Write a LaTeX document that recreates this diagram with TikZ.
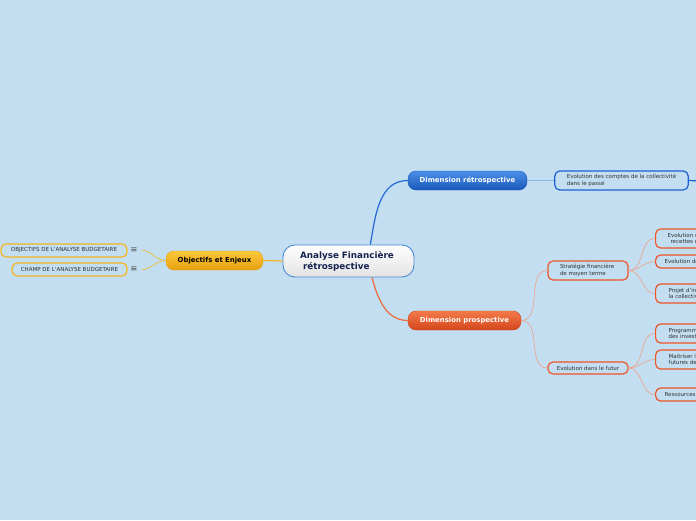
\documentclass[tikz,border=0pt]{standalone}
\usepackage{fontspec}
\setmainfont{DejaVu Sans}
\definecolor{bgblue}{RGB}{194,222,240}
\definecolor{rootline}{RGB}{74,138,212}
\definecolor{rootnavy}{RGB}{20,35,80}
\definecolor{retrotop}{RGB}{76,144,232}
\definecolor{retrobot}{RGB}{24,88,184}
\definecolor{prosptop}{RGB}{243,122,74}
\definecolor{prospbot}{RGB}{212,70,28}
\definecolor{objtop}{RGB}{252,200,60}
\definecolor{objbot}{RGB}{232,160,16}
\definecolor{leafyellow}{RGB}{245,181,33}
\definecolor{leafblue}{RGB}{30,95,208}
\definecolor{leaforange}{RGB}{238,85,40}
\definecolor{linkblue}{RGB}{36,104,216}
\definecolor{linkorange}{RGB}{238,106,58}
\definecolor{linkyellow}{RGB}{242,184,32}
\definecolor{linklight}{RGB}{138,184,232}
\definecolor{linksalmon}{RGB}{240,160,136}
\definecolor{leaftext}{RGB}{50,50,50}

\begin{document}
\begin{tikzpicture}[x=1pt,y=-1pt,
  rootbox/.style={draw=rootline, line width=0.9pt, rounded corners=12pt, top color=white, bottom color=gray!22,
    text width=97pt, inner xsep=17pt, inner ysep=0pt, minimum height=32pt, align=left, text=rootnavy,
    font=\fontsize{8.8}{10.8}\selectfont\bfseries},
  mainbox/.style={rounded corners=8pt, minimum height=19pt, inner sep=0pt, text=white,
    font=\fontsize{6.9}{8}\selectfont\bfseries},
  retrobox/.style={mainbox, draw=retrobot, top color=retrotop, bottom color=retrobot},
  prospbox/.style={mainbox, draw=prospbot, top color=prosptop, bottom color=prospbot},
  objbox/.style={mainbox, draw=objbot, top color=objtop, bottom color=objbot, text=black},
  leafbox/.style={fill=bgblue, line width=1.2pt, rounded corners=5pt, inner ysep=0pt, text=leaftext,
    font=\fontsize{5.5}{6.5}\selectfont},
  leafyel/.style={leafbox, draw=leafyellow, minimum height=13pt},
  leafblu/.style={leafbox, draw=leafblue, minimum height=19pt, align=left, inner xsep=12pt},
  leaforg/.style={leafbox, draw=leaforange, align=left, inner xsep=12pt},
  menuicon/.style={inner sep=0pt, text=gray!60!black, font=\fontsize{8.5}{8.5}\selectfont},
  thinlink/.style={linksalmon, line width=0.6pt}]
\fill[bgblue] (0,0) rectangle (696,520);
\clip (0,0) rectangle (696,520);

\node[rootbox] (root) at (348.5,261) {Analyse Financière\\\hspace*{3pt}rétrospective};
\node[retrobox, minimum width=119pt] (retro) at (467.5,180.5) {Dimension rétrospective};
\node[prospbox, minimum width=113pt] (prosp) at (464.5,320.5) {Dimension prospective};
\node[objbox, minimum width=97pt] (enjeux) at (214.5,260.5) {Objectifs et Enjeux};

\node[leafyel, minimum width=126pt] (objectifs) at (64,250.5) {OBJECTIFS DE L'ANALYSE BUDGETAIRE};
\node[leafyel, minimum width=115pt] (champ) at (69.5,269.5) {CHAMP DE L'ANALYSE BUDGETAIRE};
\node[menuicon] (menuA) at (134,250.5) {≡};
\node[menuicon] (menuB) at (134,269.5) {≡};

\node[leafblu] (comptes) at (621.5,180.5) {Evolution des comptes de la collectivité\\dans le passé};
\coordinate (comptesout) at (700,181);

\node[leaforg, text width=56pt, minimum height=19pt] (strategie) at (588,270.5) {Stratégie financière\\de moyen terme};
\node[leaforg, minimum width=80pt, minimum height=12pt, align=center, inner xsep=0pt] (futur) at (588,368) {Evolution dans le futur};

\node[leaforg, anchor=west, minimum height=19pt, inner xsep=12pt] (depenses) at (655,238.5) {Evolution des dépenses et\\\hspace*{3pt}recettes de fonctionnement};
\node[leaforg, anchor=west, minimum height=13pt, inner xsep=9pt] (dette) at (655,261.5) {Evolution de la dette};
\node[leaforg, anchor=west, minimum height=19pt, inner xsep=13pt] (projet) at (655,293.5) {Projet d'investissement de\\la collectivité};
\node[leaforg, anchor=west, minimum height=19pt, inner xsep=13pt] (programme) at (655,333.5) {Programmation pluriannuelle\\des investissements};
\node[leaforg, anchor=west, minimum height=19pt, inner xsep=13pt] (charges) at (655,359.5) {Maitriser l'évolution des charges\\futures de fonctionnement};
\node[leaforg, anchor=west, minimum height=13pt, inner xsep=9pt] (ressources) at (655,394.5) {Ressources mobilisables};

\draw[linkblue, line width=1.2pt] (root.37) to[out=80,in=180] (retro.west);
\draw[linkorange, line width=1.2pt] (root.-35) to[out=-75,in=180] (prosp.west);
\draw[linkyellow, line width=1.2pt] (root.west) -- (enjeux.east);
\draw[linkyellow, line width=0.6pt] (enjeux.west) to[out=180,in=0] ([xshift=4pt]menuA.east);
\draw[linkyellow, line width=0.6pt] (enjeux.west) to[out=180,in=0] ([xshift=4pt]menuB.east);
\draw[linklight, line width=1.2pt] (retro.east) -- (comptes.west);
\draw[leafblue, line width=1.2pt] (comptes.east) -- (comptesout);
\draw[thinlink] (prosp.east) to[out=0,in=180] (strategie.west);
\draw[thinlink] (prosp.east) to[out=0,in=180] (futur.west);
\foreach \leaf in {depenses,dette,projet}
  \draw[thinlink] (strategie.east) to[out=0,in=180] (\leaf.west);
\foreach \leaf in {programme,charges,ressources}
  \draw[thinlink] (futur.east) to[out=0,in=180] (\leaf.west);
\end{tikzpicture}
\end{document}
